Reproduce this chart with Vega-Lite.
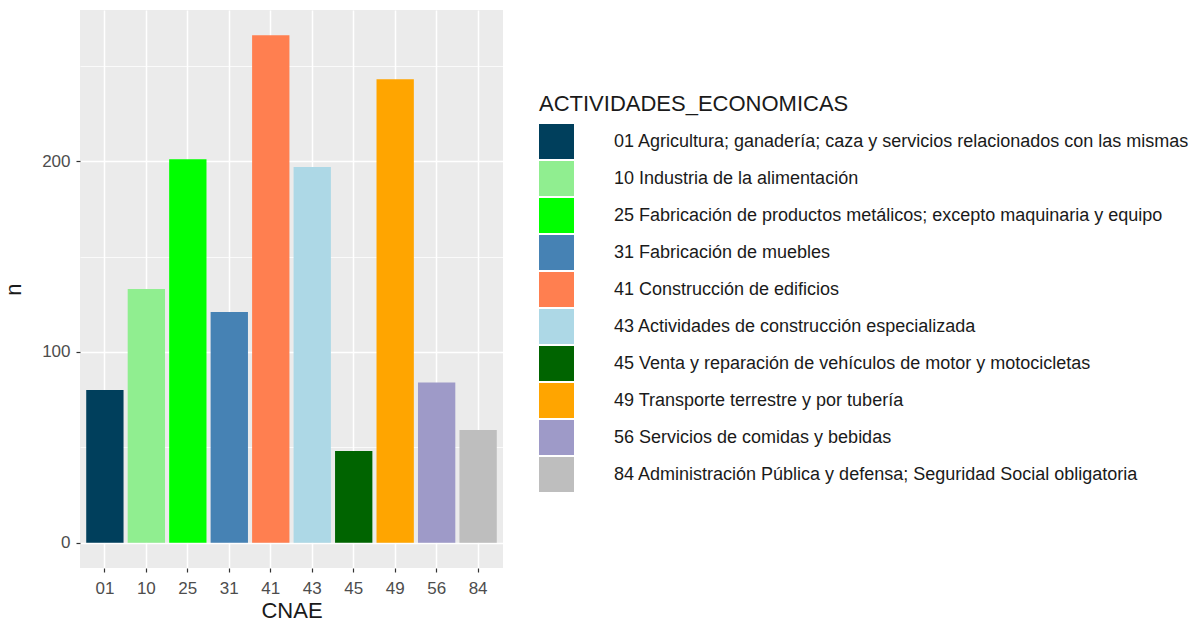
{
  "$schema": "https://vega.github.io/schema/vega-lite/v6.json",
  "width": 423,
  "height": 558,
  "autosize": "none",
  "padding": {"left": 80, "top": 10, "right": 687, "bottom": 54},
  "background": "white",
  "config": {
    "font": "Liberation Sans",
    "view": {"fill": "#EBEBEB", "stroke": null}
  },
  "data": {
    "values": [
      {"CNAE": "01", "n": 80, "ACTIVIDADES_ECONOMICAS": "01 Agricultura; ganadería; caza y servicios relacionados con las mismas"},
      {"CNAE": "10", "n": 133, "ACTIVIDADES_ECONOMICAS": "10 Industria de la alimentación"},
      {"CNAE": "25", "n": 201, "ACTIVIDADES_ECONOMICAS": "25 Fabricación de productos metálicos; excepto maquinaria y equipo"},
      {"CNAE": "31", "n": 121, "ACTIVIDADES_ECONOMICAS": "31 Fabricación de muebles"},
      {"CNAE": "41", "n": 266, "ACTIVIDADES_ECONOMICAS": "41 Construcción de edificios"},
      {"CNAE": "43", "n": 197, "ACTIVIDADES_ECONOMICAS": "43 Actividades de construcción especializada"},
      {"CNAE": "45", "n": 48, "ACTIVIDADES_ECONOMICAS": "45 Venta y reparación de vehículos de motor y motocicletas"},
      {"CNAE": "49", "n": 243, "ACTIVIDADES_ECONOMICAS": "49 Transporte terrestre y por tubería"},
      {"CNAE": "56", "n": 84, "ACTIVIDADES_ECONOMICAS": "56 Servicios de comidas y bebidas"},
      {"CNAE": "84", "n": 59, "ACTIVIDADES_ECONOMICAS": "84 Administración Pública y defensa; Seguridad Social obligatoria"}
    ]
  },
  "mark": {"type": "bar"},
  "encoding": {
    "x": {
      "field": "CNAE",
      "type": "nominal",
      "sort": null,
      "scale": {"paddingInner": 0.1, "paddingOuter": 0.15},
      "axis": {
        "bandPosition": 0.5,
        "labelAngle": 0,
        "labelFontSize": 17,
        "labelColor": "#4D4D4D",
        "labelPadding": 8,
        "tickColor": "#333333",
        "tickSize": 4,
        "tickWidth": 1.2,
        "domain": false,
        "grid": true,
        "gridColor": "white",
        "gridWidth": 1.5,
        "title": "CNAE",
        "titleFontSize": 22,
        "titleFontWeight": "normal",
        "titleColor": "#1A1A1A",
        "titlePadding": 4
      }
    },
    "y": {
      "field": "n",
      "type": "quantitative",
      "scale": {"domain": [-13.3, 279.3], "nice": false, "zero": false},
      "axis": {
        "values": [0, 50, 100, 150, 200, 250],
        "labelExpr": "datum.value % 100 === 0 ? datum.label : ''",
        "labelFontSize": 17,
        "labelColor": "#4D4D4D",
        "labelPadding": 6,
        "tickColor": "#333333",
        "tickWidth": 1.2,
        "tickSize": {"condition": {"test": "datum.value % 100 === 0", "value": 4}, "value": 0},
        "domain": false,
        "grid": true,
        "gridColor": "white",
        "gridWidth": {"condition": {"test": "datum.value % 100 === 0", "value": 1.5}, "value": 0.75},
        "title": "n",
        "titleFontSize": 22,
        "titleFontWeight": "normal",
        "titleColor": "#1A1A1A",
        "titlePadding": 16
      }
    },
    "y2": {"datum": 0},
    "color": {
      "field": "ACTIVIDADES_ECONOMICAS",
      "type": "nominal",
      "scale": {
        "range": ["#003F5C", "#90EE90", "#00FF00", "#4682B4", "#FF7F50", "#ADD8E6", "#006400", "#FFA500", "#9E9AC8", "#BEBEBE"]
      },
      "legend": {
        "orient": "none",
        "legendX": 459,
        "legendY": 84,
        "title": "ACTIVIDADES_ECONOMICAS",
        "titleFontSize": 22,
        "titleFontWeight": "normal",
        "titleColor": "#1A1A1A",
        "titlePadding": 8,
        "titleLimit": 800,
        "symbolType": "square",
        "symbolSize": 1225,
        "symbolStrokeWidth": 0,
        "symbolOpacity": 1,
        "labelFontSize": 18,
        "labelColor": "#1A1A1A",
        "labelOffset": 40,
        "labelLimit": 800,
        "rowPadding": 2
      }
    }
  }
}
